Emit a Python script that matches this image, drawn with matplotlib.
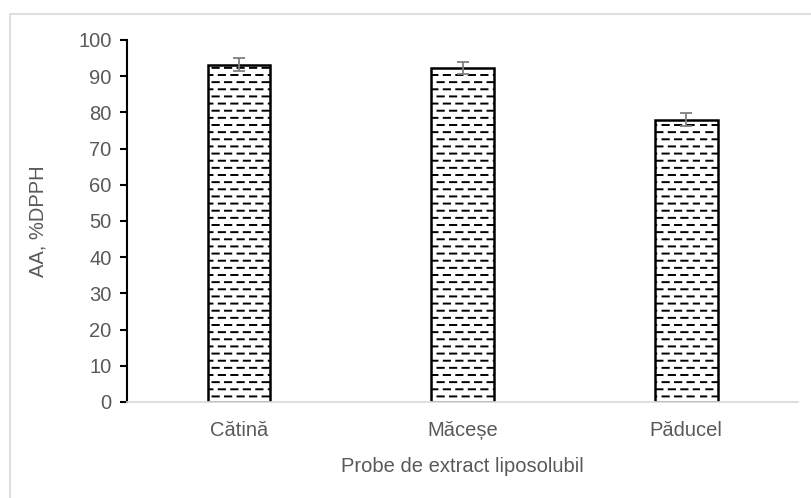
# -*- coding:utf-8 -*-
import matplotlib
matplotlib.use('Agg')
import matplotlib.hatch as mhatch
from matplotlib import pyplot as plt
from matplotlib.patches import Rectangle
import numpy as np

# Probe de extract liposolubil si activitatea antioxidanta (%DPPH)
probe = ['Cătină', 'Măceșe', 'Păducel']
activitate = [93.2, 92.2, 78.0]
abatere = [1.9, 1.7, 1.8]


class DashedHorizontalHatch(mhatch.HatchPatternBase):
    """Hasura cu linii orizontale intrerupte, randuri decalate."""

    def __init__(self, hatch, density):
        self.num_rows = int(hatch.count('-') * 7)
        self.num_cols = 8
        self.num_vertices = self.num_rows * self.num_cols * 2

    def set_vertices_and_codes(self, vertices, codes):
        step_y = 1.0 / self.num_rows
        step_x = 1.0 / self.num_cols
        k = 0
        for i in range(self.num_rows):
            y = (i + 0.5) * step_y
            off = 0.5 if i % 2 else 0.0
            for j in range(self.num_cols):
                x0 = (j + off) * step_x
                vertices[k] = (x0, y)
                vertices[k + 1] = (x0 + 0.5 * step_x, y)
                k += 2
        codes[0::2] = mhatch.Path.MOVETO
        codes[1::2] = mhatch.Path.LINETO


# liniile continue '-' devin linii intrerupte
mhatch._hatch_types = [DashedHorizontalHatch if t is mhatch.HorizontalHatch else t
                       for t in mhatch._hatch_types]

plt.rcParams['font.family'] = ['Liberation Sans', 'DejaVu Sans']
plt.rcParams['hatch.linewidth'] = 1.4
plt.rcParams['hatch.color'] = 'black'

fig = plt.figure(figsize=(8.11, 4.98), dpi=100)
ax = fig.add_axes([0.1566, 0.1928, 0.984 - 0.1566, 0.9197 - 0.1928])

# chenarul graficului
fig.patches.append(Rectangle((10 / 811, -0.1), 1.2, 1 - 14 / 498 + 0.1,
                             transform=fig.transFigure, fill=False,
                             edgecolor='#d9d9d9', linewidth=1.2))

x = np.arange(len(probe))
ax.bar(x, activitate, width=0.28, color='white', edgecolor='black',
       linewidth=1.8, hatch='--', zorder=2)
ax.errorbar(x, activitate, yerr=abatere, fmt='none', ecolor='#7f7f7f',
            elinewidth=1.3, capsize=4, capthick=1.3, zorder=3)

ax.set_xlim(-0.5, len(probe) - 0.5)
ax.set_ylim(0, 100)
ax.set_yticks(range(0, 101, 10))
ax.set_xticks(x)
ax.set_xticklabels(probe)

for s in ['top', 'right']:
    ax.spines[s].set_visible(False)
ax.spines['left'].set_color('black')
ax.spines['left'].set_linewidth(1.5)
ax.spines['bottom'].set_color('#d9d9d9')
ax.spines['bottom'].set_linewidth(1.2)

fs = 14.5
ax.tick_params(axis='y', direction='out', length=5, width=1.5, color='black',
               labelsize=fs, labelcolor='#595959', pad=6)
ax.tick_params(axis='x', length=0, labelsize=fs, labelcolor='#595959', pad=14)

ax.set_ylabel('AA, %DPPH', fontsize=fs, color='#595959', labelpad=22)
ax.set_xlabel('Probe de extract liposolubil', fontsize=fs, color='#595959', labelpad=12)

plt.savefig('out.png', dpi=100)
